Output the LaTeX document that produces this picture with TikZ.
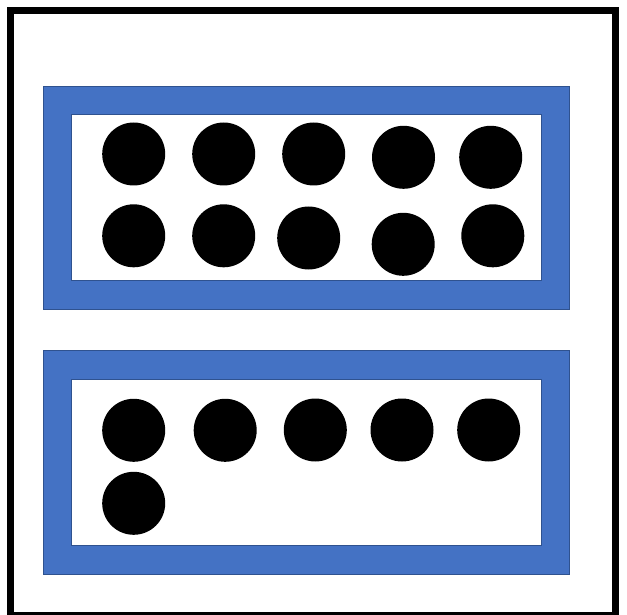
\documentclass[tikz,border=0pt]{standalone}
\usepackage{tikz}

\definecolor{boxblue}{HTML}{4472C4}
\definecolor{boxedge}{HTML}{2F528F}

\begin{document}
\begin{tikzpicture}[x=1pt,y=-1pt]

\useasboundingbox (0,0) rectangle (627,615);

\draw[line width=7pt] (10.5,10.5) rectangle (615,615.5);

\draw[boxedge,fill=boxblue] (43,86) rectangle (569,309);
\draw[boxedge,fill=white] (71,114) rectangle (541,280);

\draw[boxedge,fill=boxblue] (43,350) rectangle (569,574);
\draw[boxedge,fill=white] (71,379) rectangle (541,545);

\foreach \x/\y in {133.7/154, 223.7/154, 313.7/154, 403.5/157.3, 490.7/157.3,
                   133.7/235.8, 223.7/235.8, 308.7/238, 403.2/244.3, 492.8/235.8}
  \fill[black] (\x,\y) circle (31.5);

\foreach \x/\y in {133.7/430.3, 225.2/430.3, 315.3/430, 402/430, 488.7/430,
                   133.7/503.3}
  \fill[black] (\x,\y) circle (31.5);

\end{tikzpicture}
\end{document}
